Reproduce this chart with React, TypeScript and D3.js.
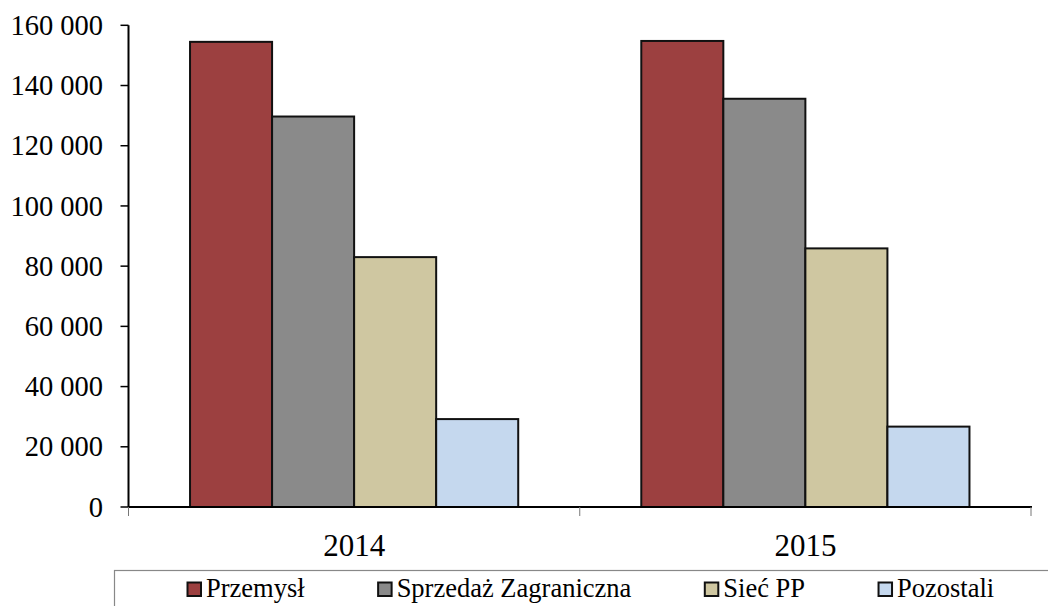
import React, { useEffect, useRef } from "react";
import * as d3 from "d3";

const years = ["2014", "2015"];
const seriesNames = ["Przemysł", "Sprzedaż Zagraniczna", "Sieć PP", "Pozostali"];
const przemysl = [154500, 154800];
const sprzedaz = [129700, 135600];
const siecPP = [83000, 85900];
const pozostali = [29200, 26700];
const yTicks = [0, 20000, 40000, 60000, 80000, 100000, 120000, 140000, 160000];
const colors = ["#9c4040", "#8a8a8a", "#cfc7a1", "#c5d8ee"];

const W = 1048;
const H = 606;
const FONT = "Times New Roman, Times, Liberation Serif, DejaVu Serif, serif";

const App = () => {
  const ref = useRef<SVGSVGElement>(null);

  useEffect(() => {
    const svg = d3.select(ref.current);
    svg.selectAll("*").remove();

    const margin = { top: 25.3, left: 128.5, right: 1031, bottom: 507 };
    const series = [przemysl, sprzedaz, siecPP, pozostali];

    const y = d3.scaleLinear().domain([0, 160000]).range([margin.bottom, margin.top]);
    const x = d3.scaleBand().domain(years).range([margin.left, margin.right]);
    // excel gap width 150% -> group = 4 bars out of 5.5
    const barW = x.bandwidth() / 5.5;
    const x1 = d3
      .scaleBand()
      .domain(seriesNames)
      .range([0.75 * barW, 4.75 * barW]);

    const fmt = (d: number) => d3.format(",")(d).replace(/,/g, " ");

    // bars
    seriesNames.forEach((name, si) => {
      svg
        .append("g")
        .selectAll("rect")
        .data(series[si])
        .enter()
        .append("rect")
        .attr("x", (d, i) => (x(years[i]) as number) + (x1(name) as number))
        .attr("y", (d) => y(d))
        .attr("width", x1.bandwidth())
        .attr("height", (d) => y(0) - y(d))
        .attr("fill", colors[si])
        .attr("stroke", "#111")
        .attr("stroke-width", 2);
    });

    // y axis
    const yAxis = svg.append("g");
    yAxis
      .append("line")
      .attr("x1", margin.left)
      .attr("x2", margin.left)
      .attr("y1", y(0))
      .attr("y2", y(160000))
      .attr("stroke", "#000")
      .attr("stroke-width", 2);
    yAxis
      .selectAll("line.tick")
      .data(yTicks)
      .enter()
      .append("line")
      .attr("class", "tick")
      .attr("x1", margin.left - 8)
      .attr("x2", margin.left)
      .attr("y1", (d) => y(d))
      .attr("y2", (d) => y(d))
      .attr("stroke", "#000")
      .attr("stroke-width", 1.5);
    yAxis
      .selectAll("text")
      .data(yTicks)
      .enter()
      .append("text")
      .attr("x", 103)
      .attr("y", (d) => y(d))
      .attr("dy", "0.34em")
      .attr("text-anchor", "end")
      .attr("font-family", FONT)
      .attr("font-size", 28.5)
      .attr("fill", "#000")
      .text((d) => fmt(d));

    // x axis
    const xAxis = svg.append("g");
    xAxis
      .append("line")
      .attr("x1", margin.left)
      .attr("x2", margin.right + 1)
      .attr("y1", y(0))
      .attr("y2", y(0))
      .attr("stroke", "#000")
      .attr("stroke-width", 2);
    const xTickPos = [margin.left, ...years.map((yr) => (x(yr) as number) + x.bandwidth())];
    xAxis
      .selectAll("line.tick")
      .data(xTickPos)
      .enter()
      .append("line")
      .attr("class", "tick")
      .attr("x1", (d) => d)
      .attr("x2", (d) => d)
      .attr("y1", y(0))
      .attr("y2", y(0) + 9)
      .attr("stroke", "#777")
      .attr("stroke-width", 1);
    xAxis
      .selectAll("text")
      .data(years)
      .enter()
      .append("text")
      .attr("x", (d) => (x(d) as number) + x.bandwidth() / 2)
      .attr("y", 556)
      .attr("text-anchor", "middle")
      .attr("font-family", FONT)
      .attr("font-size", 31)
      .attr("fill", "#000")
      .text((d) => d);

    // legend
    const legend = svg.append("g");
    legend
      .append("rect")
      .attr("x", 114.5)
      .attr("y", 570.5)
      .attr("width", 1000)
      .attr("height", 100)
      .attr("fill", "#fff")
      .attr("stroke", "#888")
      .attr("stroke-width", 1.2);
    let lx = 187;
    seriesNames.forEach((name, si) => {
      const item = legend.append("g").attr("transform", `translate(${lx},0)`);
      item
        .append("rect")
        .attr("x", 0.5)
        .attr("y", 582.5)
        .attr("width", 13.5)
        .attr("height", 13.5)
        .attr("fill", colors[si])
        .attr("stroke", "#111")
        .attr("stroke-width", 2);
      const t = item
        .append("text")
        .attr("x", 19)
        .attr("y", 597)
        .attr("font-family", FONT)
        .attr("font-size", 26.5)
        .attr("fill", "#000")
        .text(name);
      const tw = (t.node() as SVGTextElement).getComputedTextLength();
      lx += 19 + tw + 73;
    });
  }, []);

  return (
    <svg
      ref={ref}
      width={W}
      height={H}
      style={{ position: "absolute", left: 0, top: 0, background: "#fff" }}
    />
  );
};

export default App;
